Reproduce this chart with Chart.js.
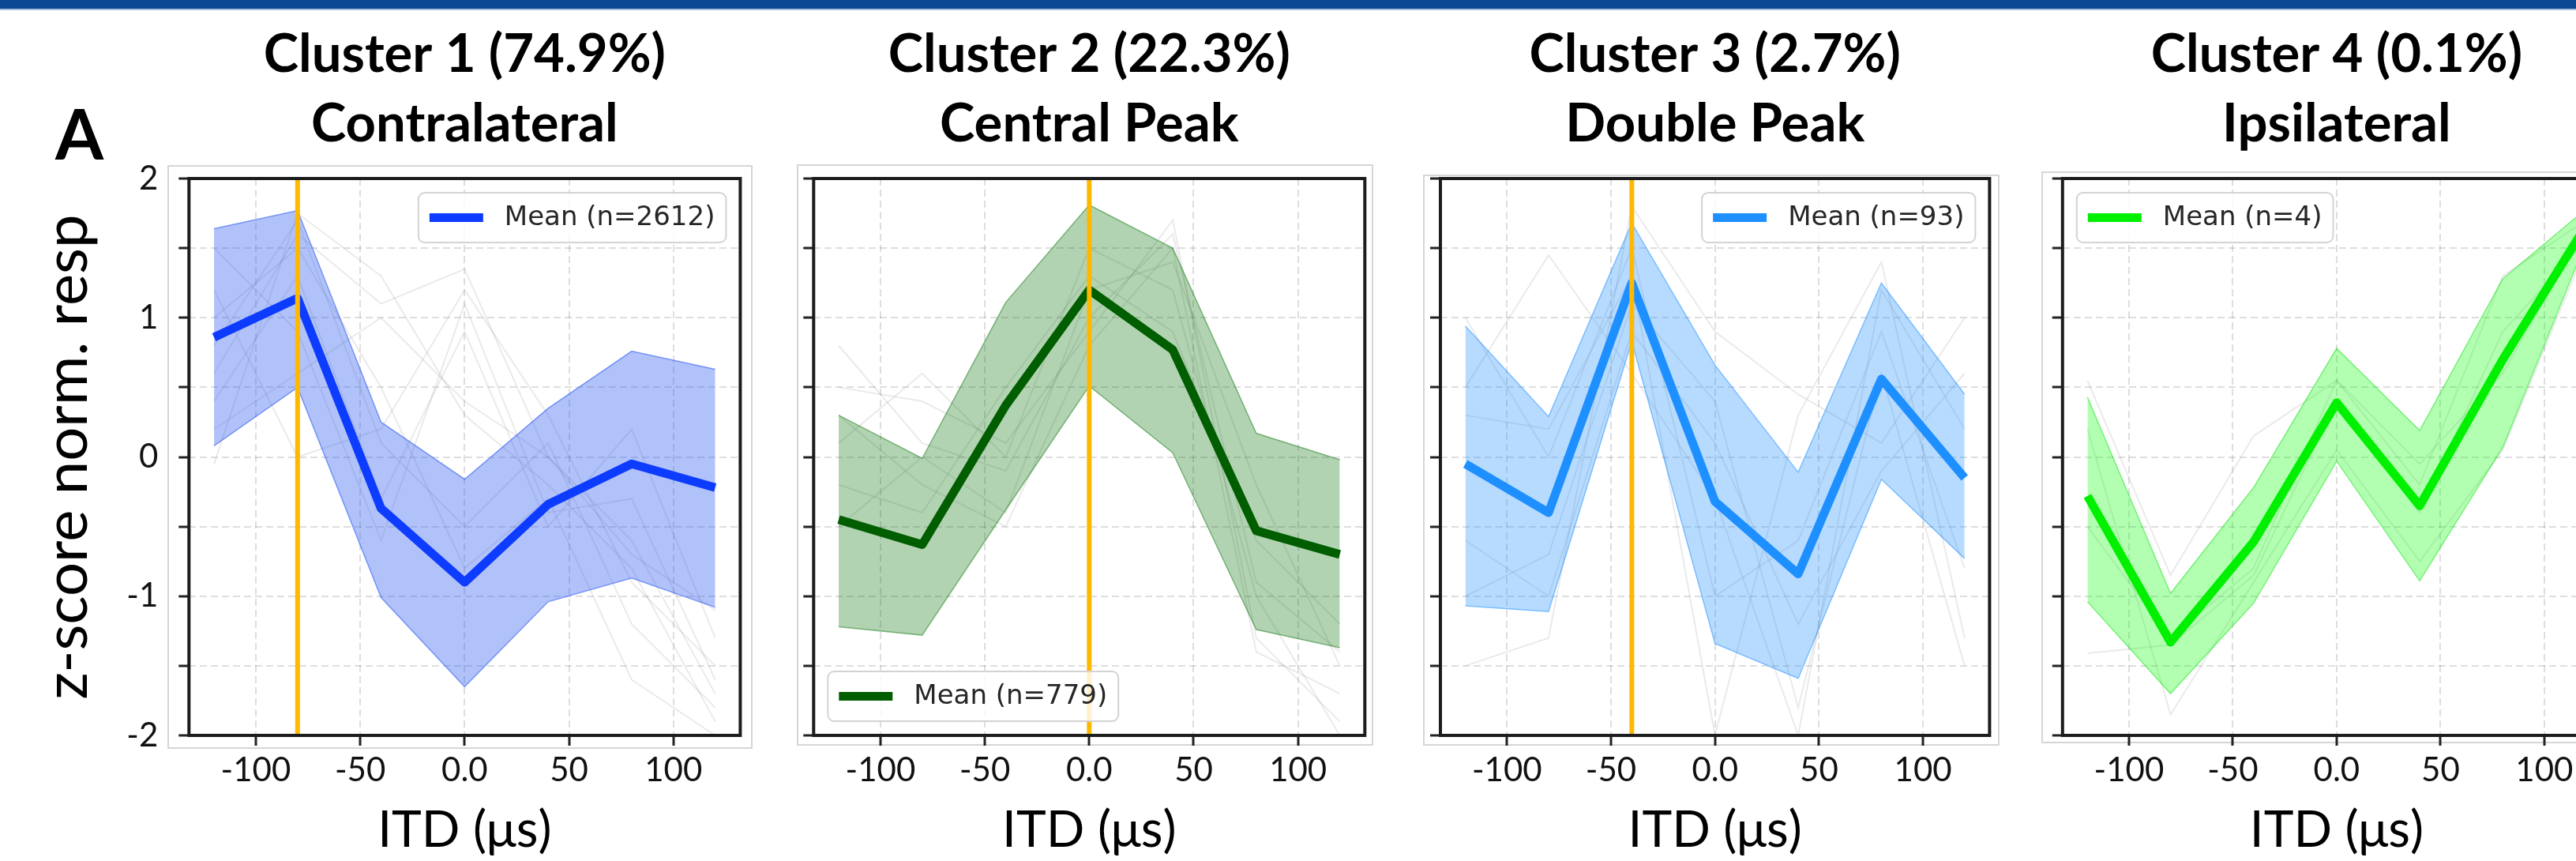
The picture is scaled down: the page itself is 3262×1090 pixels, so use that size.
<!DOCTYPE html>
<html>
<head>
<meta charset="utf-8">
<script src="https://cdn.jsdelivr.net/npm/chart.js@4.4.1/dist/chart.umd.min.js"></script>
<style>
  html, body { margin: 0; padding: 0; width: 3262px; height: 1090px; overflow: hidden; background: #fff; }
  #topbar { position: absolute; left: 0; top: 0; width: 3262px; height: 11px; background: #0a4a95; border-bottom: 2px solid #a9c1df; }
  .imgbox { position: absolute; border: 2px solid #d6d6d6; box-sizing: border-box; }
  canvas { position: absolute; top: 0; }
  #letter { position: absolute; left: 70px; top: 124px; font: bold 88px Lato; line-height: 88px; color: #000; }
</style>
</head>
<body>
<div id="topbar"></div>
<div id="letter">A</div>
<script>
// x positions (ITD, µs) shared by every series
const itdValues = [-120, -80, -40, 0, 40, 80, 120];
const xTickValues = [-100, -50, 0, 50, 100];
const yRange = [-2, 2];

const clusterTitles = [
    ["Cluster 1 (74.9%)", "Contralateral"],
    ["Cluster 2 (22.3%)", "Central Peak"],
    ["Cluster 3 (2.7%)", "Double Peak"],
    ["Cluster 4 (0.1%)", "Ipsilateral"]
];
const meanCounts = [2612, 779, 93, 4];
const bestItd = [-80, 0, -40, null];

const mean1 = [0.86, 1.14, -0.37, -0.90, -0.34, -0.05, -0.22];
const upper1 = [1.64, 1.77, 0.25, -0.16, 0.35, 0.76, 0.63];
const lower1 = [0.08, 0.50, -1.01, -1.65, -1.04, -0.87, -1.08];
const traces1 = [
    [-0.05, 1.75, 1.3, 0.3, -0.2, -0.8, -1.9],
    [0.6, 1.6, 1.1, 1.35, 0.0, -0.6, -1.7],
    [1.2, 0.0, 0.2, 1.2, 0.3, -0.9, -1.5],
    [0.4, 1.3, -0.3, 0.9, -0.5, 0.2, -1.3],
    [1.0, 1.5, 0.5, -0.8, -0.3, -1.6, -2.0],
    [0.2, 0.6, 1.0, 0.4, 0.0, -0.7, -1.1],
    [0.8, 1.7, 0.1, -0.5, 0.1, -1.2, -1.8],
    [1.5, 0.9, -0.6, 1.1, -0.4, -0.3, -1.6]
];

const mean2 = [-0.45, -0.63, 0.37, 1.20, 0.77, -0.53, -0.70];
const upper2 = [0.30, -0.01, 1.11, 1.81, 1.50, 0.17, -0.02];
const lower2 = [-1.22, -1.28, -0.38, 0.51, 0.03, -1.24, -1.37];
const traces2 = [
    [0.8, 0.1, -0.1, 1.0, 1.6, -0.9, -1.4],
    [0.5, 0.4, 0.1, 0.9, 1.7, -1.3, -1.9],
    [-0.5, 0.0, -0.4, 1.2, 1.4, -0.2, -1.5],
    [0.1, 0.6, 0.0, 1.5, 1.2, -1.0, -2.0],
    [-0.2, -0.4, 0.5, 1.3, 0.9, -0.6, -1.2],
    [0.3, -0.2, -0.5, 0.8, 1.5, -1.4, -1.7]
];

const mean3 = [-0.05, -0.40, 1.25, -0.32, -0.84, 0.56, -0.15];
const upper3 = [0.94, 0.29, 1.68, 0.66, -0.11, 1.25, 0.45];
const lower3 = [-1.07, -1.11, 0.83, -1.34, -1.59, -0.16, -0.73];
const traces3 = [
    [0.5, 1.45, 0.6, -0.3, -2.0, 1.2, 0.2],
    [-1.5, -1.3, 1.8, 0.9, 0.45, 0.1, 1.0],
    [0.3, 0.2, 1.3, -2.0, 0.3, 1.4, -1.3],
    [-0.6, -1.0, 0.9, 0.1, -1.2, -0.1, 0.6],
    [1.0, 0.0, 1.5, -1.0, -0.6, 0.9, -0.8],
    [-1.0, -0.7, 1.1, 0.4, -1.8, 0.6, -1.5]
];

const mean4 = [-0.28, -1.33, -0.61, 0.39, -0.35, 0.70, 1.66];
const upper4 = [0.43, -0.98, -0.22, 0.78, 0.19, 1.28, 1.78];
const lower4 = [-1.04, -1.70, -1.05, -0.03, -0.89, 0.07, 1.54];
const traces4 = [
    [0.55, -0.85, 0.15, 0.55, -0.2, 1.3, 1.7],
    [-1.41, -1.35, -0.85, 0.4, -0.4, 0.9, 1.55],
    [0.2, -1.85, -0.9, 0.05, -0.75, 0.05, 1.5],
    [-0.5, -1.3, -0.8, 0.55, -0.05, 0.6, 1.65]
];

// canvas placement so that each chart area lands on the original frame
const panels = [
    { left: 0, width: 960, axisW: 239.3, padR: 22.6, yLabels: true, corner: "tr", box: [212, 209, 741, 739],
      mean: mean1, upper: upper1, lower: lower1, traces: traces1,
      color: "#0d3cff", fill: "rgba(40,85,240,0.36)", edge: "rgba(40,85,240,0.55)" },
    { left: 980, width: 770, axisW: 50.3, padR: 21.7, yLabels: false, corner: "bl", box: [1009, 208, 730, 736],
      mean: mean2, upper: upper2, lower: lower2, traces: traces2,
      color: "#005e00", fill: "rgba(0,110,0,0.3)", edge: "rgba(0,110,0,0.45)" },
    { left: 1770, width: 770, axisW: 54, padR: 20.6, yLabels: false, corner: "tr", box: [1802, 221, 730, 723],
      mean: mean3, upper: upper3, lower: lower3, traces: traces3,
      color: "#1e8fff", fill: "rgba(30,144,255,0.32)", edge: "rgba(30,144,255,0.5)" },
    { left: 2560, width: 770, axisW: 51.8, padR: 24, yLabels: false, corner: "tl", box: [2585, 217, 800, 724],
      mean: mean4, upper: upper4, lower: lower4, traces: traces4,
      color: "#00f000", fill: "rgba(0,255,0,0.3)", edge: "rgba(0,220,0,0.45)" }
];

const framePlugin = {
    id: "frame",
    afterDatasetsDraw(chart) {
        const { ctx, chartArea: a } = chart;
        ctx.save();
        ctx.strokeStyle = "#1c1c1c";
        ctx.lineWidth = 4;
        ctx.strokeRect(a.left, a.top, a.right - a.left, a.bottom - a.top);
        ctx.restore();
    }
};

const meanLegend = {
    id: "meanLegend",
    afterDraw(chart, args, opts) {
        const ds = chart.data.datasets.find((d) => d.isMean);
        const { ctx, chartArea: a } = chart;
        ctx.save();
        ctx.font = '34px "DejaVu Sans"';
        const tw = ctx.measureText(ds.label).width;
        const w = 14 + 68 + 27 + tw + 14, h = 63;
        const x = opts.corner.includes("r") ? a.right - 18 - w : a.left + 18;
        const y = opts.corner.includes("t") ? a.top + 18 : a.bottom - 18 - h;
        ctx.beginPath();
        ctx.roundRect(x, y, w, h, 8);
        ctx.fillStyle = "rgba(255,255,255,0.8)";
        ctx.fill();
        ctx.strokeStyle = "#d3d3d3";
        ctx.lineWidth = 2;
        ctx.stroke();
        ctx.beginPath();
        ctx.moveTo(x + 14, y + h / 2);
        ctx.lineTo(x + 82, y + h / 2);
        ctx.strokeStyle = ds.borderColor;
        ctx.lineWidth = 11;
        ctx.stroke();
        ctx.fillStyle = "#262626";
        ctx.textBaseline = "middle";
        ctx.fillText(ds.label, x + 109, y + h / 2 + 1);
        ctx.restore();
    }
};

const gridStyle = { color: "rgba(0,0,0,0.13)", lineWidth: 2, tickLength: 13, tickWidth: 3, tickColor: "#222" };

function buildPanel(p, i) {
    const box = document.createElement("div");
    box.className = "imgbox";
    box.style.cssText = `left:${p.box[0]}px;top:${p.box[1]}px;width:${p.box[2]}px;height:${p.box[3]}px`;
    document.body.appendChild(box);

    const canvas = document.createElement("canvas");
    canvas.width = p.width;
    canvas.height = 1090;
    canvas.style.left = p.left + "px";
    document.body.appendChild(canvas);

    const pts = (arr) => arr.map((y, k) => ({ x: itdValues[k], y }));
    const datasets = [];
    if (bestItd[i] !== null) {
        datasets.push({ data: yRange.map((y) => ({ x: bestItd[i], y })), borderColor: "#ffb800", borderWidth: 6, pointRadius: 0, clip: 0 });
    }
    datasets.push({ label: `Mean (n=${meanCounts[i]})`, isMean: true, data: pts(p.mean), borderColor: p.color, borderWidth: 11,
        borderJoinStyle: "round", pointRadius: 0, clip: 0 });
    datasets.push({ data: pts(p.upper), borderColor: p.edge, borderWidth: 1.5, backgroundColor: p.fill, fill: "+1", pointRadius: 0, clip: 0 });
    datasets.push({ data: pts(p.lower), borderColor: p.edge, borderWidth: 1.5, fill: false, pointRadius: 0, clip: 0 });
    p.traces.forEach((t) => {
        datasets.push({ data: pts(t), borderColor: "rgba(130,130,130,0.17)", borderWidth: 2, pointRadius: 0, clip: 0 });
    });

    new Chart(canvas, {
        type: "line",
        data: { datasets },
        plugins: [framePlugin, meanLegend],
        options: {
            responsive: false,
            animation: false,
            devicePixelRatio: 1,
            layout: { padding: { top: 0, right: p.padR, bottom: 0, left: 0 } },
            plugins: {
                legend: { display: false },
                tooltip: { enabled: false },
                title: {
                    display: true, text: clusterTitles[i], fullSize: false, color: "#000",
                    font: { family: "Lato", weight: "bold", size: 67, lineHeight: 88 / 67 },
                    padding: { top: 25, bottom: 25 }
                },
                meanLegend: { corner: p.corner }
            },
            scales: {
                x: {
                    type: "linear", min: -132, max: 132,
                    afterBuildTicks: (s) => { s.ticks = xTickValues.map((v) => ({ value: v })); },
                    afterFit: (s) => { s.height = 159; },
                    ticks: { callback: (v) => (v === 0 ? "0.0" : String(v)), font: { family: "Lato", size: 42 }, color: "#111",
                        padding: 6, maxRotation: 0, autoSkip: false },
                    grid: gridStyle,
                    border: { display: false, dash: [9, 5] },
                    title: { display: true, text: "ITD (μs)", color: "#000", font: { family: "Lato", size: 64 }, padding: { top: 0, bottom: 0 } }
                },
                y: {
                    min: yRange[0], max: yRange[1],
                    afterFit: (s) => { s.width = p.axisW; },
                    ticks: { stepSize: 0.5, autoSkip: false, color: "#111", font: { family: "Lato", size: 42 }, padding: 26,
                        callback: (v) => (p.yLabels && Number.isInteger(v) ? String(v) : "") },
                    grid: gridStyle,
                    border: { display: false, dash: [9, 5] },
                    title: { display: p.yLabels, text: "z-score norm. resp", color: "#000", font: { family: "Lato", size: 76 },
                        padding: { top: 40, bottom: 0 } }
                }
            }
        }
    });
}

Promise.all([
    document.fonts.load('bold 67px Lato'),
    document.fonts.load('42px Lato'),
    document.fonts.load('34px "DejaVu Sans"')
]).catch(() => null).then(() => panels.forEach(buildPanel));
</script>
</body>
</html>
